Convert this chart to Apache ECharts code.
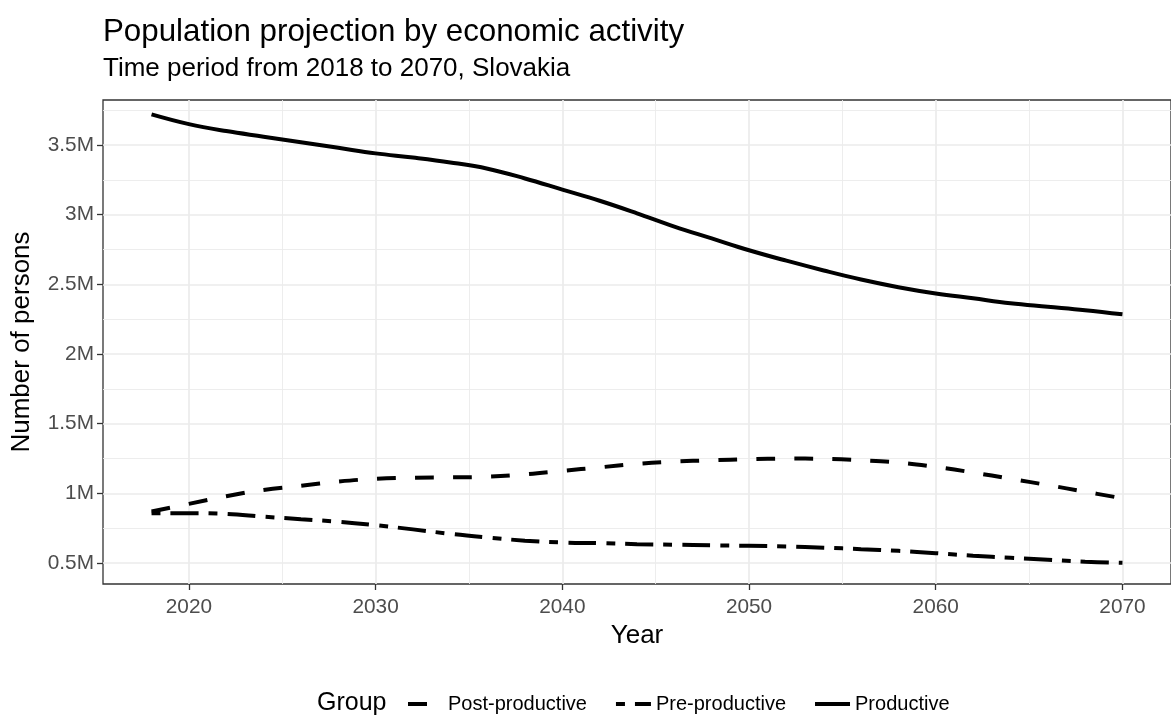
<!DOCTYPE html>
<html>
<head>
<meta charset="utf-8">
<script src="https://cdn.jsdelivr.net/npm/echarts@6/dist/echarts.min.js"></script>
<style>
html,body{margin:0;padding:0;background:#fff;}
#chart{width:1171px;height:716px;}
</style>
</head>
<body>
<div id="chart"></div>
<script>
const years = [2018,2020,2022,2024,2026,2028,2030,2032,2034,2036,2038,2040,2042,2044,2046,2048,2050,2052,2054,2056,2058,2060,2062,2064,2066,2068,2070];
const postProductive = [870000,925000,980000,1025000,1055000,1085000,1105000,1113000,1115000,1120000,1137000,1162000,1187000,1212000,1228000,1238000,1246000,1250000,1248000,1238000,1222000,1190000,1150000,1105000,1060000,1012000,965000];
const preProductive = [858000,858000,853000,833000,815000,797000,772000,742000,710000,684000,661000,648000,643000,636000,632000,628000,624000,619000,611000,600000,588000,571000,553000,538000,524000,510000,502000];
const productive = [3720000,3650000,3600000,3560000,3520000,3480000,3440000,3410000,3375000,3330000,3260000,3180000,3100000,3010000,2915000,2830000,2745000,2670000,2600000,2535000,2480000,2435000,2400000,2365000,2340000,2315000,2285000];
const groupNames = ['Post-productive','Pre-productive','Productive'];
const xTicks = [2020,2030,2040,2050,2060,2070];
const xMinor = [2025,2035,2045,2055,2065];
const yTicks = [500000,1000000,1500000,2000000,2500000,3000000,3500000];
const yMinor = [750000,1250000,1750000,2250000,2750000,3250000,3750000];

const FONT = "'Liberation Sans', Arial, sans-serif";
const toPairs = vals => years.map((y, i) => [y, vals[i]]);
const fmtM = v => (v / 1e6) + 'M';

const chart = echarts.init(document.getElementById('chart'), null, {renderer: 'canvas'});
const gridColor = '#EBEBEB';

const option = {
  backgroundColor: '#ffffff',
  animation: false,
  title: [
    {text: 'Population projection by economic activity', left: 98, top: 12, padding: 5,
     textStyle: {fontFamily: FONT, fontSize: 31.3, fontWeight: 'normal', color: '#000'}},
    {text: 'Time period from 2018 to 2070, Slovakia', left: 98, top: 51, padding: 5,
     textStyle: {fontFamily: FONT, fontSize: 26, fontWeight: 'normal', color: '#000'}}
  ],
  graphic: [
    {type: 'text', left: 317, top: 691,
     style: {text: 'Group', font: "25px 'Liberation Sans', Arial, sans-serif", fill: '#000'}}
  ],
  legend: {
    data: groupNames,
    left: 401, top: 689,
    itemWidth: 35, itemHeight: 20, itemGap: 27,
    icon: 'inherit',
    itemStyle: {opacity: 0},
    lineStyle: {width: 4},
    textStyle: {fontFamily: FONT, fontSize: 20, color: '#000'},
    selectedMode: false
  },
  grid: {
    left: 103, right: -12, top: 100, bottom: 132,
    show: true, borderColor: '#333333', borderWidth: 1.3, backgroundColor: 'transparent',
    containLabel: false
  },
  xAxis: [
    {
      type: 'value', min: 2015.4, max: 2072.6,
      name: 'Year', nameLocation: 'middle', nameGap: 35,
      nameTextStyle: {fontFamily: FONT, fontSize: 26, color: '#000'},
      axisLine: {show: false},
      axisTick: {show: true, length: 6, lineStyle: {color: '#333333', width: 1.3}, customValues: xTicks},
      axisLabel: {customValues: xTicks, formatter: v => String(v), margin: 13,
        fontFamily: FONT, fontSize: 20.8, color: '#4D4D4D'},
      splitLine: {show: true, lineStyle: {color: gridColor, width: 1.7}}
    },
    {
      type: 'value', min: 2015.4, max: 2072.6, position: 'bottom',
      axisLine: {show: false},
      axisTick: {show: false, customValues: xMinor},
      axisLabel: {show: false, customValues: xMinor},
      splitLine: {show: true, lineStyle: {color: gridColor, width: 0.9}}
    }
  ],
  yAxis: [
    {
      type: 'value', min: 350000, max: 3823000,
      name: 'Number of persons', nameLocation: 'middle', nameGap: 68, nameRotate: 90,
      nameTextStyle: {fontFamily: FONT, fontSize: 26, color: '#000'},
      axisLine: {show: false},
      axisTick: {show: true, length: 6, lineStyle: {color: '#333333', width: 1.3}, customValues: yTicks},
      axisLabel: {customValues: yTicks, formatter: fmtM, margin: 9,
        fontFamily: FONT, fontSize: 20.8, color: '#4D4D4D'},
      splitLine: {show: true, lineStyle: {color: gridColor, width: 1.7}}
    },
    {
      type: 'value', min: 350000, max: 3823000, position: 'left',
      axisLine: {show: false},
      axisTick: {show: false, customValues: yMinor},
      axisLabel: {show: false, customValues: yMinor},
      splitLine: {show: true, lineStyle: {color: gridColor, width: 0.9}}
    }
  ],
  series: [
    {
      name: groupNames[0], type: 'line', xAxisIndex: 0, yAxisIndex: 0,
      data: toPairs(postProductive), smooth: 0.4, symbol: 'none', showSymbol: false,
      lineStyle: {color: '#000', width: 4, type: [19, 19], cap: 'butt'},
      itemStyle: {color: '#000'}, z: 3
    },
    {
      name: groupNames[1], type: 'line', xAxisIndex: 0, yAxisIndex: 0,
      data: toPairs(preProductive), smooth: 0.4, symbol: 'none', showSymbol: false,
      lineStyle: {color: '#000', width: 4, type: [9, 10, 28, 10], cap: 'butt'},
      itemStyle: {color: '#000'}, z: 3
    },
    {
      name: groupNames[2], type: 'line', xAxisIndex: 0, yAxisIndex: 0,
      data: toPairs(productive), smooth: 0.4, symbol: 'none', showSymbol: false,
      lineStyle: {color: '#000', width: 4, type: 'solid', cap: 'butt'},
      itemStyle: {color: '#000'}, z: 3
    }
  ]
};
chart.setOption(option);
</script>
</body>
</html>
